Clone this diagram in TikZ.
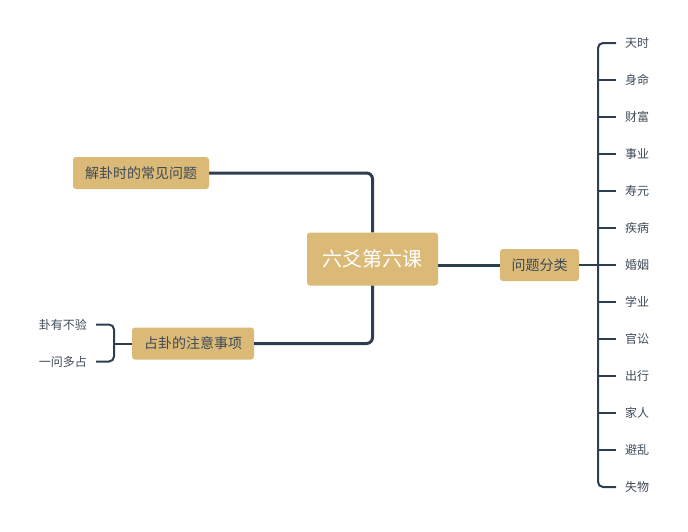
\documentclass[tikz,border=0pt]{standalone}
\usepackage{fontspec}
\setmainfont{Noto Sans CJK SC}
\usetikzlibrary{calc}
\definecolor{gold}{HTML}{DBB977}
\definecolor{navy}{HTML}{2C3E50}
\definecolor{inkgray}{HTML}{3D4A57}
\tikzset{
  topic/.style={fill=gold, rounded corners=3pt, minimum height=32pt, text=inkgray, font=\fontsize{14}{14}\selectfont},
  leaf/.style={inner xsep=9pt, text=inkgray, font=\fontsize{12}{12}\selectfont},
  mainline/.style={navy, line width=3pt, rounded corners=6pt},
  subline/.style={navy, line width=2pt, rounded corners=5pt}
}

\begin{document}
\begin{tikzpicture}[x=1pt,y=-1pt]
      \useasboundingbox (0,0) rectangle (688,531);
      \node[topic, minimum width=131pt, minimum height=53pt, text=white, font=\fontsize{20}{20}\selectfont] (root) at (372.5,259) {六爻第六课};
      \node[topic, minimum width=79pt] (kinds) at (539.5,265) {问题分类};
      \node[topic, minimum width=136pt] (solve) at (141,173) {解卦时的常见问题};
      \node[topic, minimum width=122pt] (cast) at (193,343.5) {占卦的注意事项};
      \coordinate (spine) at (598,265);
      \coordinate (fork) at (114,343.5);
      % right leaves
      \node[leaf, anchor=west] (l1) at (616,43) {天时};
      \node[leaf, anchor=west] (l2) at (616,80) {身命};
      \node[leaf, anchor=west] (l3) at (616,117) {财富};
      \node[leaf, anchor=west] (l4) at (616,154) {事业};
      \node[leaf, anchor=west] (l5) at (616,191) {寿元};
      \node[leaf, anchor=west] (l6) at (616,228) {疾病};
      \node[leaf, anchor=west] (l7) at (616,265) {婚姻};
      \node[leaf, anchor=west] (l8) at (616,302) {学业};
      \node[leaf, anchor=west] (l9) at (616,339) {官讼};
      \node[leaf, anchor=west] (l10) at (616,376) {出行};
      \node[leaf, anchor=west] (l11) at (616,413) {家人};
      \node[leaf, anchor=west] (l12) at (616,450) {避乱};
      \node[leaf, anchor=west] (l13) at (616,487) {失物};
      % left leaves
      \node[leaf, anchor=east] (a1) at (96,324.5) {卦有不验};
      \node[leaf, anchor=east] (a2) at (96,361.5) {一问多占};
      % connectors
      \draw[mainline] (root.north) |- (solve.east);
      \draw[mainline] (root.south) |- (cast.east);
      \draw[mainline] (root.east |- kinds.west) -- (kinds.west);
      \draw[subline] (kinds.east) -- (spine);
      \draw[subline] (l1.west) -- (spine |- l1.west) -- (spine |- l13.west) -- (l13.west);
      \draw[subline] (spine |- l2.west) -- (l2.west);
      \draw[subline] (spine |- l3.west) -- (l3.west);
      \draw[subline] (spine |- l4.west) -- (l4.west);
      \draw[subline] (spine |- l5.west) -- (l5.west);
      \draw[subline] (spine |- l6.west) -- (l6.west);
      \draw[subline] (spine |- l7.west) -- (l7.west);
      \draw[subline] (spine |- l8.west) -- (l8.west);
      \draw[subline] (spine |- l9.west) -- (l9.west);
      \draw[subline] (spine |- l10.west) -- (l10.west);
      \draw[subline] (spine |- l11.west) -- (l11.west);
      \draw[subline] (spine |- l12.west) -- (l12.west);
      \draw[subline] (cast.west) -- (fork);
      \draw[subline] (a1.east) -- (fork |- a1.east) -- (fork |- a2.east) -- (a2.east);
    \end{tikzpicture}
\end{document}
